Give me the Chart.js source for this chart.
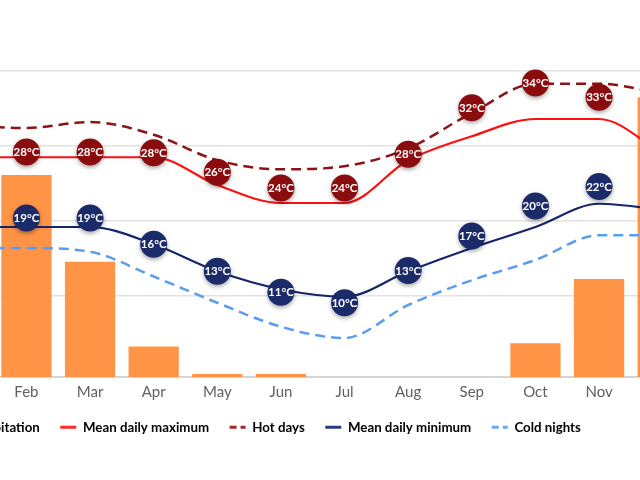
<!DOCTYPE html>
<html>
<head>
<meta charset="utf-8">
<script src="https://cdn.jsdelivr.net/npm/chart.js@4.4.1/dist/chart.umd.min.js"></script>
<style>
  html, body { margin: 0; padding: 0; background: #fff; overflow: hidden; width: 640px; height: 480px; }
  #climateChart { position: absolute; left: -186px; top: 0; }
</style>
</head>
<body>
<canvas id="climateChart" width="894" height="480"></canvas>
<script>
// monthly values, Jan..Dec (Jan and Dec sit mostly outside the visible crop)
const months = ["Jan", "Feb", "Mar", "Apr", "May", "Jun", "Jul", "Aug", "Sep", "Oct", "Nov", "Dec"];
const precipitation = [260, 198, 113, 30, 3, 3, 0, 0, 0, 33, 96, 274];
const meanMax = [28.5, 28.5, 28.5, 28.5, 24.8, 22.4, 22.4, 28.1, 31.3, 33.6, 33.6, 29];
const hotDays = [32.8, 32.4, 33.2, 31.5, 28.1, 26.9, 27.3, 29.7, 34.4, 38.3, 38.3, 37];
const meanMin = [19.2, 19.2, 19.2, 16.9, 13.3, 10.9, 9.9, 13.3, 16.4, 19.2, 22.3, 21.5];
const coldNights = [16.4, 16.4, 15.9, 12.6, 9.1, 5.9, 4.4, 8.8, 12.1, 14.8, 18.1, 18.1];

// round badges: where they sit on the temperature scale, and the text they carry
const maxBadgePos = [29.2, 29.2, 29.2, 29.1, 26.5, 24.4, 24.4, 28.9, 35.1, 38.4, 36.5, 33];
const maxBadgeText = [28, 28, 28, 28, 26, 24, 24, 28, 32, 34, 33, 29];
const minBadgePos = [20.4, 20.4, 20.4, 16.9, 13.3, 10.5, 9.1, 13.4, 18.0, 22.0, 24.6, 22];
const minBadgeText = [19, 19, 19, 16, 13, 11, 10, 13, 17, 20, 22, 21];

const tempTicks = [10, 20, 30, 40];

const legendItems = [
  { text: "Precipitation", color: "#ff9447", dash: [], style: "rect" },
  { text: "Mean daily maximum", color: "#ff2a2a", dash: [], style: "line" },
  { text: "Hot days", color: "#a3262a", dash: [7, 4], style: "line" },
  { text: "Mean daily minimum", color: "#2c3c7c", dash: [], style: "line" },
  { text: "Cold nights", color: "#6aaaf2", dash: [7, 4], style: "line" }
];

Chart.defaults.font.family = "Lato, 'Open Sans', sans-serif";

const badgeLabels = {
  id: "badgeLabels",
  afterLayout(chart) {
    // the month names hang a bit below the axis box; let them show
    chart.scales.x.bottom += 15;
  },
  beforeDatasetDraw(chart, args) {
    const ds = chart.data.datasets[args.index];
    if (!ds.badgeText) return;
    const ctx = chart.ctx;
    ctx.save();
    ctx.shadowColor = "rgba(0,0,0,0.35)";
    ctx.shadowBlur = 4;
    ctx.shadowOffsetY = 2;
  },
  afterDatasetDraw(chart, args) {
    const ds = chart.data.datasets[args.index];
    if (!ds.badgeText) return;
    const ctx = chart.ctx;
    ctx.restore();
    ctx.save();
    ctx.fillStyle = "#fff";
    ctx.font = "bold 11.5px Lato";
    ctx.textAlign = "center";
    ctx.textBaseline = "middle";
    args.meta.data.forEach((pt, i) => {
      ctx.fillText(ds.badgeText[i] + "°C", pt.x, pt.y + 0.5);
    });
    ctx.restore();
  }
};

const lineBase = {
  type: "line",
  yAxisID: "yTemp",
  pointRadius: 0,
  pointHoverRadius: 0,
  fill: false,
  cubicInterpolationMode: "monotone",
  order: 2
};

new Chart(document.getElementById("climateChart").getContext("2d"), {
  data: {
    labels: months,
    datasets: [
      {
        type: "bar",
        label: "Precipitation",
        data: precipitation,
        yAxisID: "yPrecip",
        backgroundColor: "#ff9447",
        barPercentage: 0.79,
        categoryPercentage: 1,
        order: 3
      },
      { ...lineBase, label: "Mean daily maximum", data: meanMax, borderColor: "#ff1010", borderWidth: 2.2 },
      { ...lineBase, label: "Hot days", data: hotDays, borderColor: "#8b1416", borderWidth: 2.5, borderDash: [10, 6] },
      { ...lineBase, label: "Mean daily minimum", data: meanMin, borderColor: "#16256a", borderWidth: 2.2 },
      { ...lineBase, label: "Cold nights", data: coldNights, borderColor: "#5a9ded", borderWidth: 2.5, borderDash: [10, 6] },
      {
        type: "line",
        label: "max badges",
        data: maxBadgePos,
        yAxisID: "yTemp",
        showLine: false,
        pointRadius: 13.5,
        pointHoverRadius: 13.5,
        pointBackgroundColor: "#8a0c0e",
        pointBorderWidth: 0,
        badgeText: maxBadgeText,
        clip: false,
        order: 0
      },
      {
        type: "line",
        label: "min badges",
        data: minBadgePos,
        yAxisID: "yTemp",
        showLine: false,
        pointRadius: 13.5,
        pointHoverRadius: 13.5,
        pointBackgroundColor: "#1b2a68",
        pointBorderWidth: 0,
        badgeText: minBadgeText,
        clip: false,
        order: 0
      }
    ]
  },
  options: {
    responsive: false,
    animation: false,
    layout: { padding: { top: 71, bottom: 36, left: 0, right: 0 } },
    plugins: {
      tooltip: { enabled: false },
      legend: {
        position: "bottom",
        labels: {
          usePointStyle: true,
          pointStyleWidth: 16,
          padding: 20.5,
          color: "#2b2b2b",
          font: { size: 13.3, weight: "bold" },
          generateLabels: () => legendItems.map((it, i) => ({
            text: it.text,
            fillStyle: it.color,
            strokeStyle: it.color,
            lineWidth: 3,
            lineDash: it.dash,
            pointStyle: it.style,
            hidden: false,
            datasetIndex: i
          }))
        }
      }
    },
    scales: {
      x: {
        afterFit: scale => { scale.height = 23.2; },
        grid: { display: false, drawTicks: false },
        border: { display: true, color: "#d4d4d4", width: 2 },
        ticks: { color: "#606060", padding: 6, font: { size: 15 } }
      },
      yTemp: {
        position: "left",
        min: -0.8,
        max: 40,
        afterBuildTicks: scale => { scale.ticks = tempTicks.map(v => ({ value: v })); },
        afterFit: scale => { scale.width = 117; },
        ticks: { display: false },
        border: { display: false },
        grid: { color: "#e2e2e2", lineWidth: 1.5, drawTicks: false }
      },
      yPrecip: {
        position: "right",
        display: false,
        min: 0,
        max: 300
      }
    }
  },
  plugins: [badgeLabels]
});
</script>
</body>
</html>
